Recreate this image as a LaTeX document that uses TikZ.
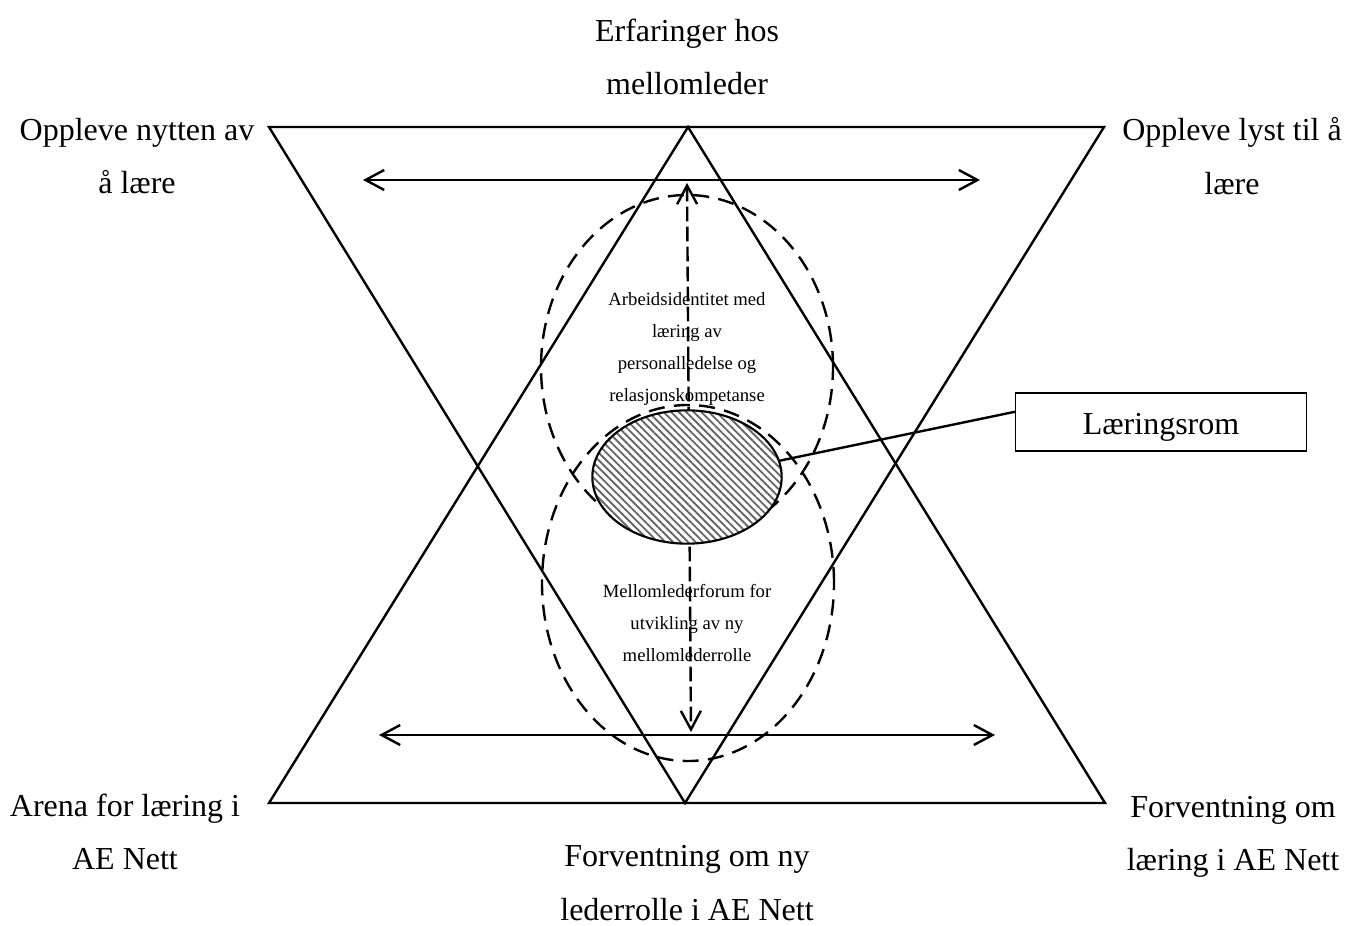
\documentclass[tikz,border=0pt]{standalone}
\usepackage{fontspec}
\setmainfont{Liberation Serif}
\usetikzlibrary{shapes.geometric,arrows.meta,positioning,patterns.meta}

\begin{document}
\begin{tikzpicture}[
    x=0.375pt, y=0.375pt,
    line width=0.9pt,
    lbl/.style={align=center, inner sep=0pt, font=\fontsize{12}{20}\selectfont},
    small/.style={align=center, inner sep=0pt, font=\fontsize{7}{12}\selectfont},
    loop/.style={ellipse, draw, dash pattern=on 6pt off 3.5pt, inner sep=0pt, minimum width=109.5pt},
    barb/.style={{Straight Barb[length=7pt,width=7.5pt]}-{Straight Barb[length=7pt,width=7.5pt]}}
]
    \useasboundingbox (0,0) rectangle (1360,925);

    % Triangle corners
    \coordinate (tl) at (269,798);
    \coordinate (tr) at (1104,798);
    \coordinate (bl) at (269,122);
    \coordinate (br) at (1105,122);
    \coordinate (apex) at (688,798);
    \coordinate (foot) at (685,122);

    % Triangles
    \draw (tl) -- (tr) -- (foot) -- cycle;
    \draw (bl) -- (br) -- (apex) -- cycle;

    % Corner labels
    \node[lbl] (erf) at (687,868) {Erfaringer hos\\mellomleder};
    \node[lbl] (nytte) at (137,769) {Oppleve nytten av\\å lære};
    \node[lbl] (lyst) at (1232,769) {Oppleve lyst til å\\lære};
    \node[lbl] (arena) at (125,93) {Arena for læring i\\AE Nett};
    \node[lbl] (forv) at (1233,88) {Forventning om\\læring i AE Nett};
    \node[lbl] (rolle) at (687,42) {Forventning om ny\\lederrolle i AE Nett};

    % Horizontal arrows
    \coordinate (h1a) at (363,745);
    \coordinate (h1b) at (980,745);
    \coordinate (h2a) at (379,190);
    \coordinate (h2b) at (995,190);
    \draw[barb] (h1a) -- (h1b);
    \draw[barb] (h2a) -- (h2b);

    % Vertical dashed arrow
    \coordinate (vt) at (687,742);
    \coordinate (vb) at (691,193);
    \draw[barb, dash pattern=on 5.5pt off 2pt] (vt) -- (vb);

    % Dashed ellipses
    \node[loop, minimum height=129pt] (arbeid) at (687,558) {};
    \node[loop, minimum height=133.5pt] (forum) at (688,342) {};

    % Learning space
    \node[ellipse, draw, line width=0.8pt, inner sep=0pt, minimum width=71pt, minimum height=50pt,
          preaction={fill=white}, pattern={Lines[angle=-45,distance=2pt,line width=0.7pt]},
          pattern color=black!60] (rom) at (687,448) {};
    \node[draw, line width=0.6pt, minimum width=109pt, minimum height=21.75pt,
          text height=9.5pt, text depth=0pt,
          font=\fontsize{12}{14}\selectfont] (lrom) at (1161,503) {Læringsrom};
    \draw (rom.10) -- (lrom.176);

    % Inner texts
    \node[small] (arbtxt) at (687,576) {Arbeidsidentitet med\\læring av\\personalledelse og\\relasjonskompetanse};
    \node[small] (forumtxt) at (687,302) {Mellomlederforum for\\utvikling av ny\\mellomlederrolle};
\end{tikzpicture}
\end{document}
